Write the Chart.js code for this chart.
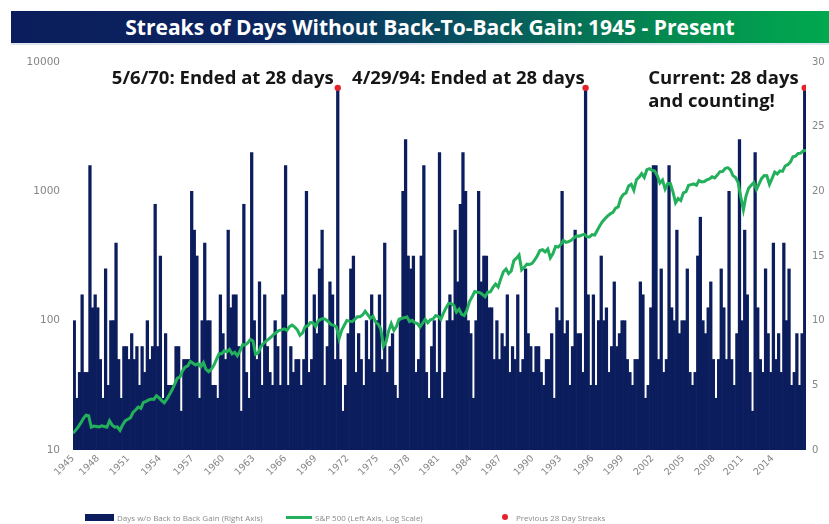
<!DOCTYPE html>
<html>
<head>
<meta charset="utf-8">
<script src="https://cdn.jsdelivr.net/npm/chart.js@4.4.1/dist/chart.umd.min.js"></script>
<style>
  html, body { margin: 0; padding: 0; background: #fff; }
  #wrap { position: relative; width: 829px; height: 524px; overflow: hidden; font-family: "Open Sans", Lato, sans-serif; }
  #title {
    position: absolute; left: 11px; top: 11px; width: 818px; height: 34px;
    background: linear-gradient(90deg, #0b1d5c 0%, #0b2560 30%, #08505f 55%, #048a50 80%, #00a94f 100%);
    color: #fff; font-weight: 700; font-size: 21px; line-height: 32px; text-align: center;
    padding-left: 20px; box-sizing: border-box; border-bottom: 2px solid #dde6ee;
  }
  #chart { position: absolute; left: 0; top: 0; }
  #legend { position: absolute; left: 0; top: 511px; width: 829px; height: 12px; font-size: 8px; color: #8a8a8a; }
  #legend .item { position: absolute; top: 0; display: flex; align-items: center; height: 12px; white-space: nowrap; }
  #legend .sw { display: inline-block; margin-right: 3px; }
</style>
</head>
<body>
<div id="wrap">
  <canvas id="chart" width="829" height="524"></canvas>
  <div id="title">Streaks of Days Without Back-To-Back Gain: 1945 - Present</div>
  <div id="legend"></div>
</div>
<script>
// 連続上昇なしの日数（四半期ごと、1945 Q1 から）と S&P 500 の推移
const startYear = 1945;

// 各四半期で最も長かった「2日連続上昇なし」の日数（右軸）
const streakDays = [
  10, 4, 6, 12, 6, 6, 22, 11, 12, 11, 7, 4, 14, 5, 10, 10, 16, 7, 4, 8,
  8, 7, 9, 7, 8, 5, 8, 6, 10, 7, 8, 19, 8, 15, 4, 9, 5, 5, 5, 8,
  8, 3, 7, 7, 7, 20, 17, 15, 4, 10, 16, 10, 10, 5, 5, 4, 12, 9, 7, 17,
  11, 12, 12, 8, 3, 19, 6, 4, 23, 10,
  7, 13, 5, 12, 8, 6, 5, 10, 8, 5, 12, 22, 5, 8, 6, 7, 7, 5, 7, 20,
  6, 7, 12, 9, 14, 17, 5, 8, 13, 12, 7, 28, 7, 3, 5, 9, 14, 15, 6, 9,
  7, 5, 10, 7, 12, 6, 10, 12, 7, 16, 6, 8, 9, 5, 4, 10, 20, 24, 15, 14,
  15, 6, 7, 15, 22, 6, 4, 8, 10, 6, 23,
  4, 6, 10, 12, 10, 17, 13, 19, 23, 20, 10, 9, 4, 10, 20, 13, 15, 15, 11,
  11, 7, 10, 7, 9, 8, 12, 6, 8, 7, 12, 6, 7, 14, 9, 8, 6, 8, 8, 6,
  5, 7, 7, 9, 4, 11, 10, 20, 9, 10, 5, 8, 17, 9, 9, 6, 28, 12, 5, 12,
  5, 10, 15, 10, 11, 6, 8, 13, 8, 9, 10, 10,
  7, 6, 5, 7, 7, 13, 12, 4, 5, 11, 22, 22, 7, 14, 6, 7, 22, 11,
  10, 17, 9, 10, 10, 14, 6, 5, 6, 15, 18, 10, 9, 11, 13, 7, 4, 7, 14, 11,
  7, 20, 7, 5, 9, 24, 10, 17, 12, 6, 3, 23, 11, 7, 6, 14, 9, 6, 16, 7,
  9, 6, 16, 10, 14, 5, 6, 9, 5, 9, 28
];

// S&P 500（各四半期初、左軸・対数）
const spx = [
  13.5, 14.2, 15.1, 16.2, 17.6, 18.6, 18.4, 15.0, 15.3, 15.2, 15.1, 15.4, 15.2, 15.0, 16.8, 15.6,
  15.0, 15.1, 14.2, 15.6, 16.8, 17.3, 17.7, 19.5, 20.4, 21.5, 21.0, 23.3, 23.8, 24.4, 24.8, 24.6,
  26.3, 25.3, 24.1, 23.2, 24.8, 26.9, 29.2, 32.3, 35.9, 36.6, 41.0, 43.7, 44.8, 48.5, 46.9, 45.4,
  46.7, 44.1, 47.4, 42.0, 40.3, 42.1, 45.2, 50.1, 55.4, 55.4, 58.5, 57.5, 59.9, 55.3, 56.9, 53.5,
  58.1, 65.1, 65.0, 67.3, 71.6, 69.6, 55.0, 56.3, 63.1, 66.6, 69.4, 72.0, 75.0, 78.5, 81.4, 84.1,
  84.8, 86.5, 84.1, 89.9, 92.4, 89.2, 85.0, 77.0, 80.3, 90.2, 91.0, 96.7, 96.5, 90.2, 99.6, 102.7,
  103.9, 101.5, 97.7, 93.1, 92.1, 89.6, 72.7, 84.3, 92.2, 100.3, 99.2, 98.3, 102.1, 107.2, 107.1, 110.6,
  118.1, 111.5, 104.3, 108.4, 97.6, 93.9, 86.0, 63.5, 68.6, 83.4, 94.8, 83.9, 90.2, 102.8, 104.3, 105.2,
  107.0, 98.4, 100.5, 96.5, 95.1, 89.2, 95.5, 102.5, 96.1, 101.6, 102.9, 109.3, 107.9, 102.1, 114.2, 125.5,
  135.8, 136.0, 131.2, 116.2, 122.6, 111.9, 109.6, 120.4, 140.6, 152.9, 168.1, 165.9, 164.9, 159.2, 153.2, 166.1,
  167.2, 180.7, 191.9, 182.1, 211.3, 238.9, 250.8, 231.3, 242.2, 291.7, 304.0, 321.8, 247.1, 258.9, 273.5, 271.9,
  277.7, 294.9, 317.9, 349.2, 353.4, 339.9, 358.0, 306.1, 330.2, 375.2, 371.2, 387.9, 417.1, 403.7, 408.1, 417.8,
  435.7, 451.7, 450.5, 458.9, 466.5, 445.7, 444.3, 462.7, 459.3, 500.7, 544.8, 584.4, 615.9, 645.5, 670.6, 687.3,
  740.7, 757.1, 885.1, 947.3, 970.4, 1101.8, 1133.8, 1017.0, 1229.2, 1286.4, 1372.7, 1282.7,
  1469.3, 1498.6, 1454.6, 1436.5, 1320.3, 1160.3, 1224.4, 1040.9, 1148.1, 1147.4, 989.8, 815.3,
  879.8, 848.2, 974.5, 996.0, 1111.9, 1126.2, 1140.8, 1114.6, 1211.9, 1180.6, 1191.3, 1228.8,
  1248.3, 1294.8, 1270.2, 1335.9, 1418.3, 1420.9, 1503.4, 1526.8, 1468.4, 1322.7, 1280.0, 1166.4,
  903.3, 720.0, 919.3, 1057.1, 1115.1, 1169.4, 1030.7, 1141.2, 1257.6, 1325.8, 1320.6, 1131.4,
  1257.6, 1408.5, 1362.2, 1440.7, 1426.2, 1569.2, 1606.3, 1681.6, 1848.4, 1872.3, 1960.2, 1972.3,
  2058.9, 2067.9
];

// x 軸の目盛り（参照図のラベル位置）
const xTickLabels = ['1945', '1948', '1951', '1954', '1957', '1960', '1963', '1966', '1969', '1972', '1975', '1978',
  '1981', '1984', '1987', '1990', '1993', '1996', '1999', '2002', '2005', '2008', '2011', '2014'];
const xTickAt = [1945.0, 1947.4, 1950.3, 1953.35, 1956.45, 1959.4, 1962.3, 1965.35, 1968.25, 1971.3, 1974.15, 1977.15,
  1980.0, 1983.1, 1985.95, 1989.05, 1991.7, 1994.8, 1997.65, 2000.55, 2003.5, 2006.4, 2009.15, 2012.05];
const leftTicks = [10, 100, 1000, 10000];

const C = { navy: '#0b1d5c', green: '#22b05a', red: '#e3232b', tick: '#858585', note: '#161616' };
const tickFont = '"DejaVu Sans", sans-serif';

// 28 日の連続記録（赤い点と注記）
const notes = [
  { lines: ['5/6/70: Ended at 28 days'], gap: 4 },
  { lines: ['4/29/94: Ended at 28 days'], gap: 1 },
  { lines: ['Current: 28 days', 'and counting!'], gap: 6 }
];
const maxIdx = streakDays.map((v, i) => v >= 28 ? i : -1).filter(i => i >= 0);

const barX = i => startYear + (i + 0.5) / 4;

const notePlugin = {
  id: 'notes',
  afterDatasetsDraw(chart) {
    const { ctx, scales: { x, yR } } = chart;
    ctx.save();
    ctx.font = 'bold 18.5px "Open Sans", sans-serif';
    ctx.fillStyle = C.note;
    ctx.textBaseline = 'middle';
    ctx.textAlign = 'left';
    notes.forEach((n, k) => {
      const idx = maxIdx[k];
      const px = x.getPixelForValue(barX(idx));
      const py = yR.getPixelForValue(streakDays[idx]);
      const w = Math.max(...n.lines.map(t => ctx.measureText(t).width));
      n.lines.forEach((t, j) => ctx.fillText(t, px - n.gap - w, py - 9 + j * 23));
    });
    ctx.restore();
  }
};

const noTicks = { display: false, drawTicks: false };

new Chart(document.getElementById('chart'), {
  type: 'bar',
  data: {
    datasets: [
      {
        type: 'line',
        label: 'Previous 28 Day Streaks',
        data: maxIdx.map(i => ({ x: barX(i), y: streakDays[i] })),
        yAxisID: 'yR',
        showLine: false,
        pointRadius: 3.2,
        pointBackgroundColor: C.red,
        pointBorderWidth: 0,
        order: 0
      },
      {
        type: 'line',
        label: 'S&P 500 (Left Axis, Log Scale)',
        data: spx.map((v, i) => ({ x: startYear + i / 4, y: v })),
        yAxisID: 'yL',
        borderColor: C.green,
        borderWidth: 3,
        pointRadius: 0,
        tension: 0,
        order: 1
      },
      {
        type: 'bar',
        label: 'Days w/o Back to Back Gain (Right Axis)',
        data: streakDays.map((v, i) => ({ x: barX(i), y: v })),
        yAxisID: 'yR',
        backgroundColor: C.navy,
        borderWidth: 0,
        barPercentage: 1,
        categoryPercentage: 1,
        order: 2
      }
    ]
  },
  options: {
    responsive: false,
    animation: false,
    layout: { padding: { top: 62, bottom: 34, left: 0, right: 0 } },
    plugins: { legend: { display: false }, tooltip: { enabled: false } },
    scales: {
      x: {
        type: 'linear',
        min: startYear,
        max: 2015.25,
        offset: false,
        grid: { ...noTicks, offset: false },
        border: { display: false },
        afterBuildTicks: s => { s.ticks = xTickAt.map(v => ({ value: v })); },
        afterFit: s => { s.height = 40; },
        ticks: {
          autoSkip: false,
          maxRotation: 45,
          minRotation: 45,
          padding: 3,
          color: C.tick,
          font: { size: 9.5, family: tickFont },
          callback: (v, i) => xTickLabels[i]
        }
      },
      yL: {
        type: 'logarithmic',
        position: 'left',
        min: 10,
        max: 10000,
        grid: noTicks,
        border: { display: false },
        afterBuildTicks: s => { s.ticks = leftTicks.map(v => ({ value: v })); },
        afterFit: s => { s.width = 73; },
        ticks: {
          padding: 13,
          color: C.tick,
          font: { size: 10.5, family: tickFont },
          callback: v => String(v)
        }
      },
      yR: {
        type: 'linear',
        position: 'right',
        min: 0,
        max: 30,
        grid: noTicks,
        border: { display: false },
        afterFit: s => { s.width = 23; },
        ticks: {
          stepSize: 5,
          padding: 6,
          color: C.tick,
          font: { size: 10, family: tickFont }
        }
      }
    }
  },
  plugins: [notePlugin]
});

// 凡例（参照図に合わせて HTML で描く）
const legendItems = [
  { left: 85, sw: `width:29px;height:7px;background:${C.navy}`, text: 'Days w/o Back to Back Gain (Right Axis)' },
  { left: 286, sw: `width:26px;height:3px;background:${C.green}`, text: 'S&P 500 (Left Axis, Log Scale)' },
  { left: 502, sw: `width:6px;height:6px;border-radius:50%;background:${C.red};margin-right:8px`, text: 'Previous 28 Day Streaks' }
];
document.getElementById('legend').innerHTML = legendItems.map(it =>
  `<div class="item" style="left:${it.left}px"><span class="sw" style="${it.sw}"></span>${it.text}</div>`).join('');
</script>
</body>
</html>
